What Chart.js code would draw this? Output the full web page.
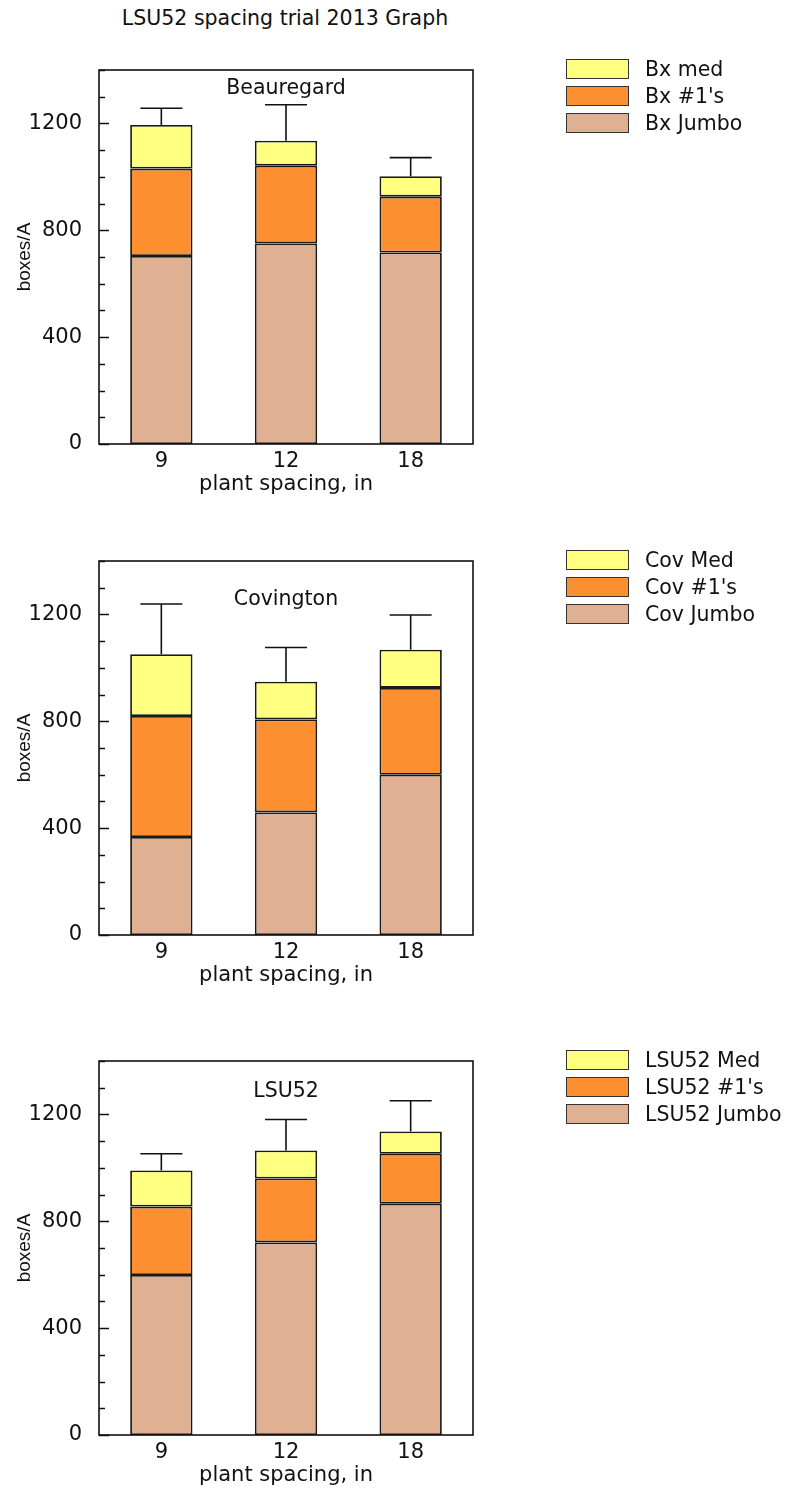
<!DOCTYPE html>
<html>
<head>
<meta charset="utf-8">
<script src="https://cdn.jsdelivr.net/npm/chart.js@4"></script>
<style>
  body { margin: 0; background: #fff; }
  #page { position: relative; width: 788px; height: 1499px; font-family: "DejaVu Sans", sans-serif; color: #111; }
  #title { position: absolute; left: 0; width: 570px; top: 6px; text-align: center; font-size: 20.5px; }
  .panel { position: absolute; left: 0; width: 788px; height: 500px; }
  .legend { position: absolute; left: 566px; top: 59px; }
  .legend .row { position: relative; height: 27px; font-size: 20.5px; line-height: 20px; }
  .legend .sw { position: absolute; left: 0; top: 0; width: 61px; height: 18px; border: 1.5px solid #333; }
  .legend .tx { position: absolute; left: 79px; top: 0; white-space: nowrap; }
</style>
</head>
<body>
<div id="page">
  <div id="title">LSU52 spacing trial 2013 Graph</div>
</div>
<script>
const spacing = ['9', '12', '18'];
const yLabels = [0, 400, 800, 1200];

// Beauregard
const bxJumbo = [704, 751, 717];
const bxNo1 = [327, 291, 209];
const bxMed = [163, 93, 76];
const bxErr = [63, 135, 70];

// Covington
const covJumbo = [367, 459, 600];
const covNo1 = [453, 348, 325];
const covMed = [231, 141, 143];
const covErr = [188, 128, 130];

// LSU52
const lsuJumbo = [599, 721, 866];
const lsuNo1 = [256, 239, 187];
const lsuMed = [135, 105, 83];
const lsuErr = [63, 116, 115];

const fills = ['#e0b092', '#fc9031', '#ffff80'];

const panels = [
  { name: 'Beauregard', top: 0, titleY: 24, labels: ['Bx Jumbo', "Bx #1's", 'Bx med'], series: [bxJumbo, bxNo1, bxMed], err: bxErr },
  { name: 'Covington', top: 491, titleY: 44, labels: ['Cov Jumbo', "Cov #1's", 'Cov Med'], series: [covJumbo, covNo1, covMed], err: covErr },
  { name: 'LSU52', top: 991, titleY: 36, labels: ['LSU52 Jumbo', "LSU52 #1's", 'LSU52 Med'], series: [lsuJumbo, lsuNo1, lsuMed], err: lsuErr }
];

// frame, inward ticks, upper error bars and the cultivar name inside the plot
const framePlugin = {
  id: 'frame',
  afterDatasetsDraw(chart, args, opts) {
    const { ctx, chartArea: a, scales: { x, y } } = chart;
    ctx.save();
    ctx.strokeStyle = '#111';
    ctx.lineWidth = 1.6;

    opts.err.forEach((e, i) => {
      const total = chart.data.datasets.reduce((s, d) => s + d.data[i], 0);
      const cx = x.getPixelForValue(i);
      const y0 = y.getPixelForValue(total);
      const y1 = y.getPixelForValue(total + e);
      ctx.beginPath();
      ctx.moveTo(cx, y0);
      ctx.lineTo(cx, y1);
      ctx.moveTo(cx - 21, y1);
      ctx.lineTo(cx + 21, y1);
      ctx.stroke();
    });

    ctx.strokeRect(a.left, a.top, a.right - a.left, a.bottom - a.top);

    ctx.beginPath();
    y.ticks.forEach(t => {
      const py = Math.round(y.getPixelForValue(t.value)) + 0.5;
      const len = yLabels.includes(t.value) ? 10 : 6;
      ctx.moveTo(a.left, py);
      ctx.lineTo(a.left + len, py);
    });
    ctx.stroke();

    ctx.fillStyle = '#111';
    ctx.font = '20.5px "DejaVu Sans"';
    ctx.textAlign = 'center';
    ctx.textBaseline = 'alphabetic';
    ctx.fillText(opts.text, (a.left + a.right) / 2, a.top + opts.offset);
    ctx.restore();
  }
};

const page = document.getElementById('page');

panels.forEach(p => {
  const wrap = document.createElement('div');
  wrap.className = 'panel';
  wrap.style.top = p.top + 'px';
  const canvas = document.createElement('canvas');
  canvas.width = 788;
  canvas.height = 500;
  wrap.appendChild(canvas);

  const legend = document.createElement('div');
  legend.className = 'legend';
  for (let k = p.labels.length - 1; k >= 0; k--) {
    const row = document.createElement('div');
    row.className = 'row';
    row.innerHTML = '<span class="sw" style="background:' + fills[k] + '"></span><span class="tx"></span>';
    row.querySelector('.tx').textContent = p.labels[k];
    legend.appendChild(row);
  }
  wrap.appendChild(legend);
  page.appendChild(wrap);

  new Chart(canvas, {
    type: 'bar',
    data: {
      labels: spacing,
      datasets: p.series.map((vals, k) => ({
        label: p.labels[k],
        data: vals,
        backgroundColor: fills[k],
        borderColor: '#1a1a1a',
        borderWidth: 1.8,
        borderSkipped: false,
        barPercentage: 0.5,
        categoryPercentage: 1.0
      }))
    },
    options: {
      responsive: false,
      animation: false,
      layout: { padding: { top: 70, right: 315, bottom: 0, left: 0 } },
      plugins: {
        legend: { display: false },
        tooltip: { enabled: false },
        frame: { err: p.err, text: p.name, offset: p.titleY }
      },
      scales: {
        x: {
          stacked: true,
          grid: { display: false, drawTicks: false },
          border: { display: false },
          ticks: { color: '#111', font: { family: 'DejaVu Sans', size: 21 }, padding: 5 },
          title: { display: true, text: 'plant spacing, in', color: '#111', font: { family: 'DejaVu Sans', size: 21 }, padding: { top: 0, bottom: 3 } },
          afterFit: s => { s.height = 56; }
        },
        y: {
          stacked: true,
          min: 0,
          max: 1400,
          grid: { display: false, drawTicks: false },
          border: { display: false },
          ticks: {
            stepSize: 100,
            autoSkip: false,
            color: '#111',
            font: { family: 'DejaVu Sans', size: 21 },
            padding: 17,
            callback: v => (yLabels.includes(v) ? String(v) : '')
          },
          title: { display: true, text: 'boxes/A', color: '#111', font: { family: 'Liberation Sans', size: 19 }, padding: { top: 13, bottom: 0 } },
          afterFit: s => { s.width = 99; }
        }
      }
    },
    plugins: [framePlugin]
  });
});
</script>
</body>
</html>
